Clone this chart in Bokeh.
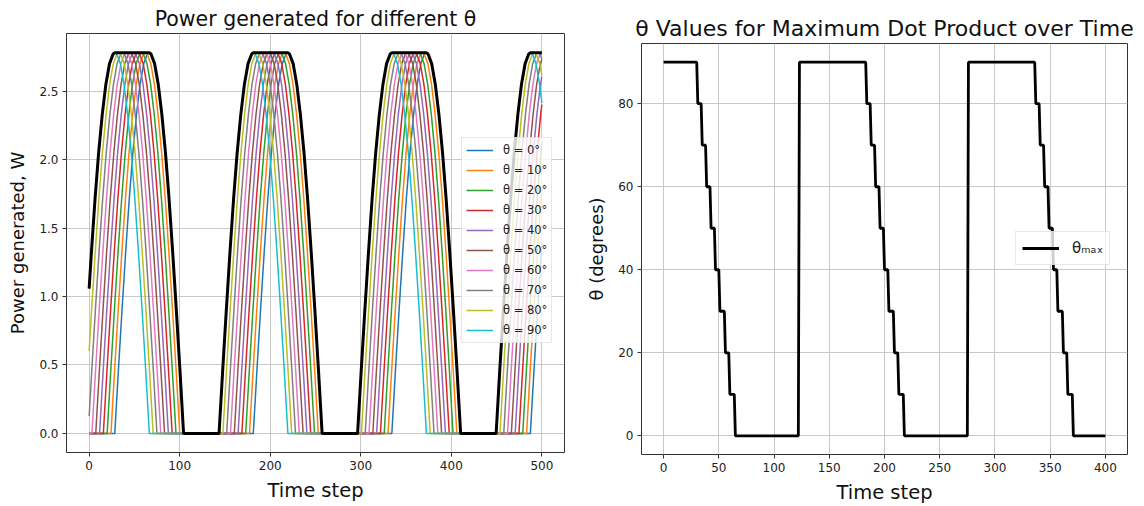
import numpy as np
from bokeh.plotting import figure
from bokeh.layouts import row, column
from bokeh.models import FixedTicker, Legend, LegendItem, PrintfTickFormatter, Range1d, Spacer
from bokeh.embed import file_html
from bokeh.resources import INLINE

# ---------------- data ----------------
# left panel: one power hump (W) against steps from the hump's start
shape_offsets = [0, 4, 8, 12, 16, 20, 24, 28, 32, 36, 38, 40, 44, 48, 52, 56, 60, 64, 68, 72, 76]
shape_power = [0.0, 0.46, 0.90, 1.32, 1.71, 2.05, 2.33, 2.55, 2.70, 2.77, 2.78,
               2.77, 2.70, 2.55, 2.33, 2.05, 1.71, 1.32, 0.90, 0.46, 0.0]
# start of each hump of the theta = 90 deg curve (time step)
hump_starts = [-9.5, 143.5, 296.5, 449.5]
thetas = [0, 10, 20, 30, 40, 50, 60, 70, 80, 90]
# delay of each theta's humps relative to theta = 90
theta_delay = [37.8, 33.6, 29.4, 25.2, 21.0, 16.8, 12.6, 8.4, 4.2, 0.0]
t_last = 500
colors = ["#1f77b4", "#ff7f0e", "#2ca02c", "#d62728", "#9467bd",
          "#8c564b", "#e377c2", "#7f7f7f", "#bcbd22", "#17becf"]

# right panel: theta giving the maximum dot product
drop_starts = [30, 183, 336]          # time where 90 starts to step down
drop_offsets = [0, 4, 8, 12, 16, 20, 25, 29, 34]
levels = [90, 80, 70, 60, 50, 40, 30, 20, 10, 0]
jump_times = [123, 276]               # back up to 90
t_last2 = 400

x_ticks1 = [0, 100, 200, 300, 400, 500]
y_ticks1 = [0.0, 0.5, 1.0, 1.5, 2.0, 2.5]
x_ticks2 = [0, 50, 100, 150, 200, 250, 300, 350, 400]
y_ticks2 = [0, 20, 40, 60, 80]

title1 = "Power generated for different θ"
title2 = "θ Values for Maximum Dot Product over Time"


def clip_curve(xs, ys, lo, hi):
    xs = np.asarray(xs, float)
    ys = np.asarray(ys, float)
    y_lo = np.interp(lo, xs, ys)
    y_hi = np.interp(hi, xs, ys)
    m = (xs > lo) & (xs < hi)
    return ([lo] + list(xs[m]) + [hi]), ([y_lo] + list(ys[m]) + [y_hi])


def style(p, title_size):
    p.outline_line_color = "#333333"
    p.outline_line_width = 1
    for ax in (p.xaxis[0], p.yaxis[0]):
        ax.axis_line_color = None
        ax.major_tick_line_color = "#333333"
        ax.major_tick_out = 4
        ax.major_tick_in = 0
        ax.minor_tick_line_color = None
        ax.major_label_text_font = "DejaVu Sans"
        ax.major_label_text_font_size = "12px"
        ax.major_label_text_color = "#222222"
        ax.major_label_standoff = 4
        ax.axis_label_text_font = "DejaVu Sans"
        ax.axis_label_text_font_style = "normal"
        ax.axis_label_text_color = "#111111"
    p.xaxis.axis_label_text_font_size = "19.5px"
    p.xaxis.axis_label_standoff = 6
    p.yaxis.axis_label_text_font_size = "18px"
    p.yaxis.axis_label_standoff = 8
    p.grid.grid_line_color = "#c8c8c8"
    p.grid.grid_line_width = 1
    p.title.text_font = "DejaVu Sans"
    p.title.text_font_size = title_size
    p.title.text_font_style = "normal"
    p.title.text_color = "#111111"
    p.title.align = "center"


# ---------------- left figure ----------------
p1 = figure(frame_width=498, frame_height=419, min_border_left=66, min_border_right=19,
            min_border_top=33, min_border_bottom=54,
            x_range=Range1d(-25, 525), y_range=Range1d(-0.139, 2.92),
            title=title1, output_backend="svg", toolbar_location=None)
style(p1, "20.5px")
p1.title.standoff = 6
p1.xaxis.axis_label = "Time step"
p1.yaxis.axis_label = "Power generated, W"
p1.xaxis.ticker = FixedTicker(ticks=x_ticks1)
p1.yaxis.ticker = FixedTicker(ticks=y_ticks1)
p1.yaxis.formatter = PrintfTickFormatter(format="%.1f")

items = []
for k, th in enumerate(thetas):
    xs, ys = [], []
    for s in hump_starts:
        for o, v in zip(shape_offsets, shape_power):
            xs.append(s + theta_delay[k] + o)
            ys.append(v)
    cx, cy = clip_curve(xs, ys, 0, t_last)
    r = p1.line(cx, cy, line_color=colors[k], line_width=1.5)
    items.append(LegendItem(label=f"θ = {th}°", renderers=[r]))

# black envelope: rise of theta=90 curve, flat top, fall of theta=0 curve
half = shape_offsets.index(38)
bx, by = [], []
for s in hump_starts:
    for o, v in zip(shape_offsets[:half + 1], shape_power[:half + 1]):
        bx.append(s + o)
        by.append(v)
    for o, v in zip(shape_offsets[half:], shape_power[half:]):
        bx.append(s + theta_delay[0] + o)
        by.append(v)
cx, cy = clip_curve(bx, by, 0, t_last)
p1.line(cx, cy, line_color="black", line_width=3)

leg1 = Legend(items=items, location=(395, 109))
leg1.label_text_font = "DejaVu Sans"
leg1.label_text_font_size = "11.5px"
leg1.label_text_color = "#222222"
leg1.glyph_width = 27
leg1.glyph_height = 16
leg1.label_height = 16
leg1.spacing = 4
leg1.padding = 4
leg1.label_standoff = 10
leg1.border_line_color = "#d0d0d0"
leg1.background_fill_alpha = 0.8
p1.add_layout(leg1)

# ---------------- right figure ----------------
p2 = figure(frame_width=486, frame_height=411, min_border_left=57, min_border_right=18,
            min_border_top=33, min_border_bottom=52,
            x_range=Range1d(-20, 420), y_range=Range1d(-4.5, 94.5),
            title=title2, output_backend="svg", toolbar_location=None)
style(p2, "22px")
p2.title.standoff = 6
p2.xaxis.axis_label = "Time step"
p2.yaxis.axis_label = "θ (degrees)"
p2.xaxis.ticker = FixedTicker(ticks=x_ticks2)
p2.yaxis.ticker = FixedTicker(ticks=y_ticks2)

sx, sy = [0], [levels[0]]
for h, d0 in enumerate(drop_starts):
    for k, off in enumerate(drop_offsets):
        sx += [d0 + off, d0 + off + 1]
        sy += [levels[k], levels[k + 1]]
    if h < len(jump_times):
        sx += [jump_times[h] - 1, jump_times[h]]
        sy += [levels[-1], levels[0]]
sx.append(t_last2)
sy.append(sy[-1])
r2 = p2.line(sx, sy, line_color="black", line_width=2.8)

leg2 = Legend(items=[LegendItem(label="θₘₐₓ", renderers=[r2])], location=(374, 189))
leg2.label_text_font = "DejaVu Sans"
leg2.label_text_font_size = "15px"
leg2.label_text_color = "#222222"
leg2.glyph_width = 37
leg2.glyph_height = 20
leg2.label_height = 20
leg2.padding = 6
leg2.label_standoff = 13
leg2.border_line_color = "#d0d0d0"
leg2.background_fill_alpha = 0.8
p2.add_layout(leg2)

layout = row(p1, column(Spacer(width=561, height=10), p2, spacing=0), spacing=0)
open("out.html", "w").write(file_html(layout, INLINE))
